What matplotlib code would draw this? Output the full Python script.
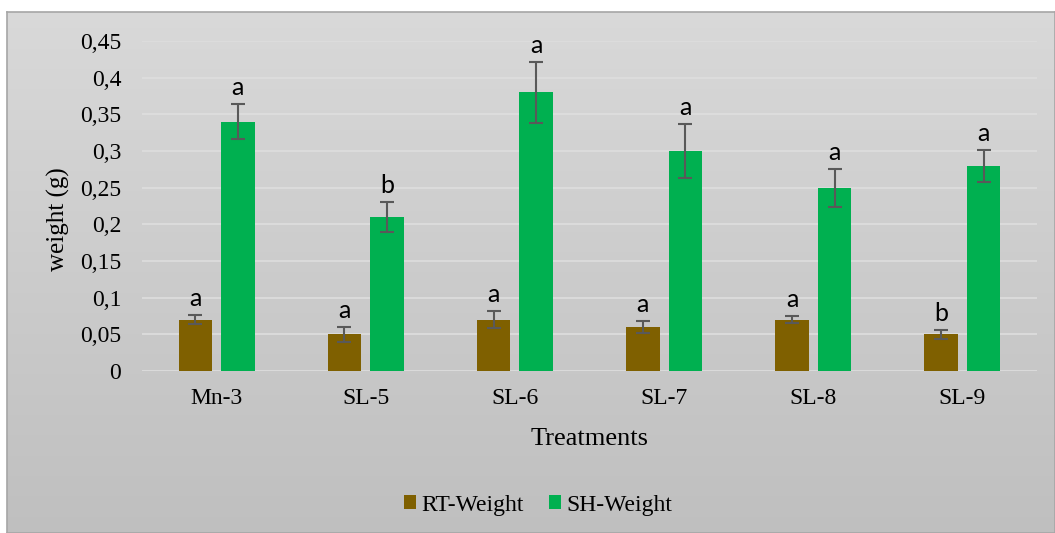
import numpy as np
import matplotlib
matplotlib.use("Agg")
import matplotlib.pyplot as plt

treatments = ["Mn-3", "SL-5", "SL-6", "SL-7", "SL-8", "SL-9"]
rt_weight = [0.07, 0.05, 0.07, 0.06, 0.07, 0.05]
rt_err = [0.006, 0.010, 0.012, 0.008, 0.005, 0.006]
sh_weight = [0.34, 0.21, 0.38, 0.30, 0.25, 0.28]
sh_err = [0.024, 0.020, 0.042, 0.037, 0.026, 0.022]
rt_letters = ["a", "a", "a", "a", "a", "b"]
sh_letters = ["a", "b", "a", "a", "a", "a"]
yticks = [0, 0.05, 0.1, 0.15, 0.2, 0.25, 0.3, 0.35, 0.4, 0.45]
ytick_labels = ["0", "0,05", "0,1", "0,15", "0,2", "0,25", "0,3", "0,35", "0,4", "0,45"]

W, H = 1055, 533
fig = plt.figure(figsize=(W / 100, H / 100), dpi=100)
fig.patch.set_facecolor("white")

# chart area: grey gradient with border
bx0, by0, bx1, by1 = 7 / W, 0, 1, 1 - 12 / H
bg = fig.add_axes([bx0, by0, bx1 - bx0, by1 - by0], zorder=-5)
grad = np.linspace(0.85, 0.75, 256).reshape(-1, 1)
bg.imshow(np.dstack([grad, grad, grad]), aspect="auto", extent=[0, 1, 0, 1])
bg.set_xticks([])
bg.set_yticks([])
for s in bg.spines.values():
    s.set_color("#a6a6a6")
    s.set_linewidth(1.2)

ax = fig.add_axes([142 / W, 1 - 371 / H, (1037 - 142) / W, 330 / H])
ax.set_facecolor("none")

x = np.arange(len(treatments))
bw = 0.225
off = 0.1426
brown = "#7f6000"
green = "#00b050"
ecol = "#595959"

ax.bar(x - off, rt_weight, bw, color=brown, label="RT-Weight", zorder=3)
ax.bar(x + off, sh_weight, bw, color=green, label="SH-Weight", zorder=3)
ax.errorbar(x - off, rt_weight, yerr=rt_err, fmt="none", ecolor=ecol,
            elinewidth=1.5, capsize=5, capthick=1.5, zorder=4)
ax.errorbar(x + off, sh_weight, yerr=sh_err, fmt="none", ecolor=ecol,
            elinewidth=1.5, capsize=5, capthick=1.5, zorder=4)

# significance letters above the error bars
for i in range(len(treatments)):
    ax.annotate(rt_letters[i], (x[i] - off, rt_weight[i] + rt_err[i]),
                xytext=(0, 3.5), textcoords="offset points", ha="center", va="bottom",
                fontsize=18, family="Lato", color="black", zorder=5)
    ax.annotate(sh_letters[i], (x[i] + off, sh_weight[i] + sh_err[i]),
                xytext=(0, 3.5), textcoords="offset points", ha="center", va="bottom",
                fontsize=18, family="Lato", color="black", zorder=5)

ax.set_xlim(-0.5, len(treatments) - 0.5)
ax.set_ylim(0, 0.45)
ax.set_yticks(yticks)
ax.set_yticklabels(ytick_labels)
ax.set_xticks(x)
ax.set_xticklabels(treatments)
ax.tick_params(length=0, labelsize=17)
ax.tick_params(axis="x", pad=12)
ax.tick_params(axis="y", pad=15)
for lab in ax.get_xticklabels() + ax.get_yticklabels():
    lab.set_family("Liberation Serif")
ax.grid(axis="y", color="#dedede", linewidth=1.2, zorder=0)
for s in ax.spines.values():
    s.set_visible(False)

ax.set_xlabel("Treatments", family="Liberation Serif", fontsize=19)
ax.xaxis.set_label_coords(0.5, -0.173)
ax.set_ylabel("weight (g)", family="Liberation Serif", fontsize=18)
ax.yaxis.set_label_coords(-0.08, 0.46)

fig.legend(loc="center", bbox_to_anchor=(538 / W, 1 - 505 / H), ncol=2, frameon=False,
           prop={"family": "Liberation Serif", "size": 17},
           handlelength=0.51, handleheight=0.51, handletextpad=0.22, columnspacing=1.1)

fig.savefig("out.png", dpi=100)
